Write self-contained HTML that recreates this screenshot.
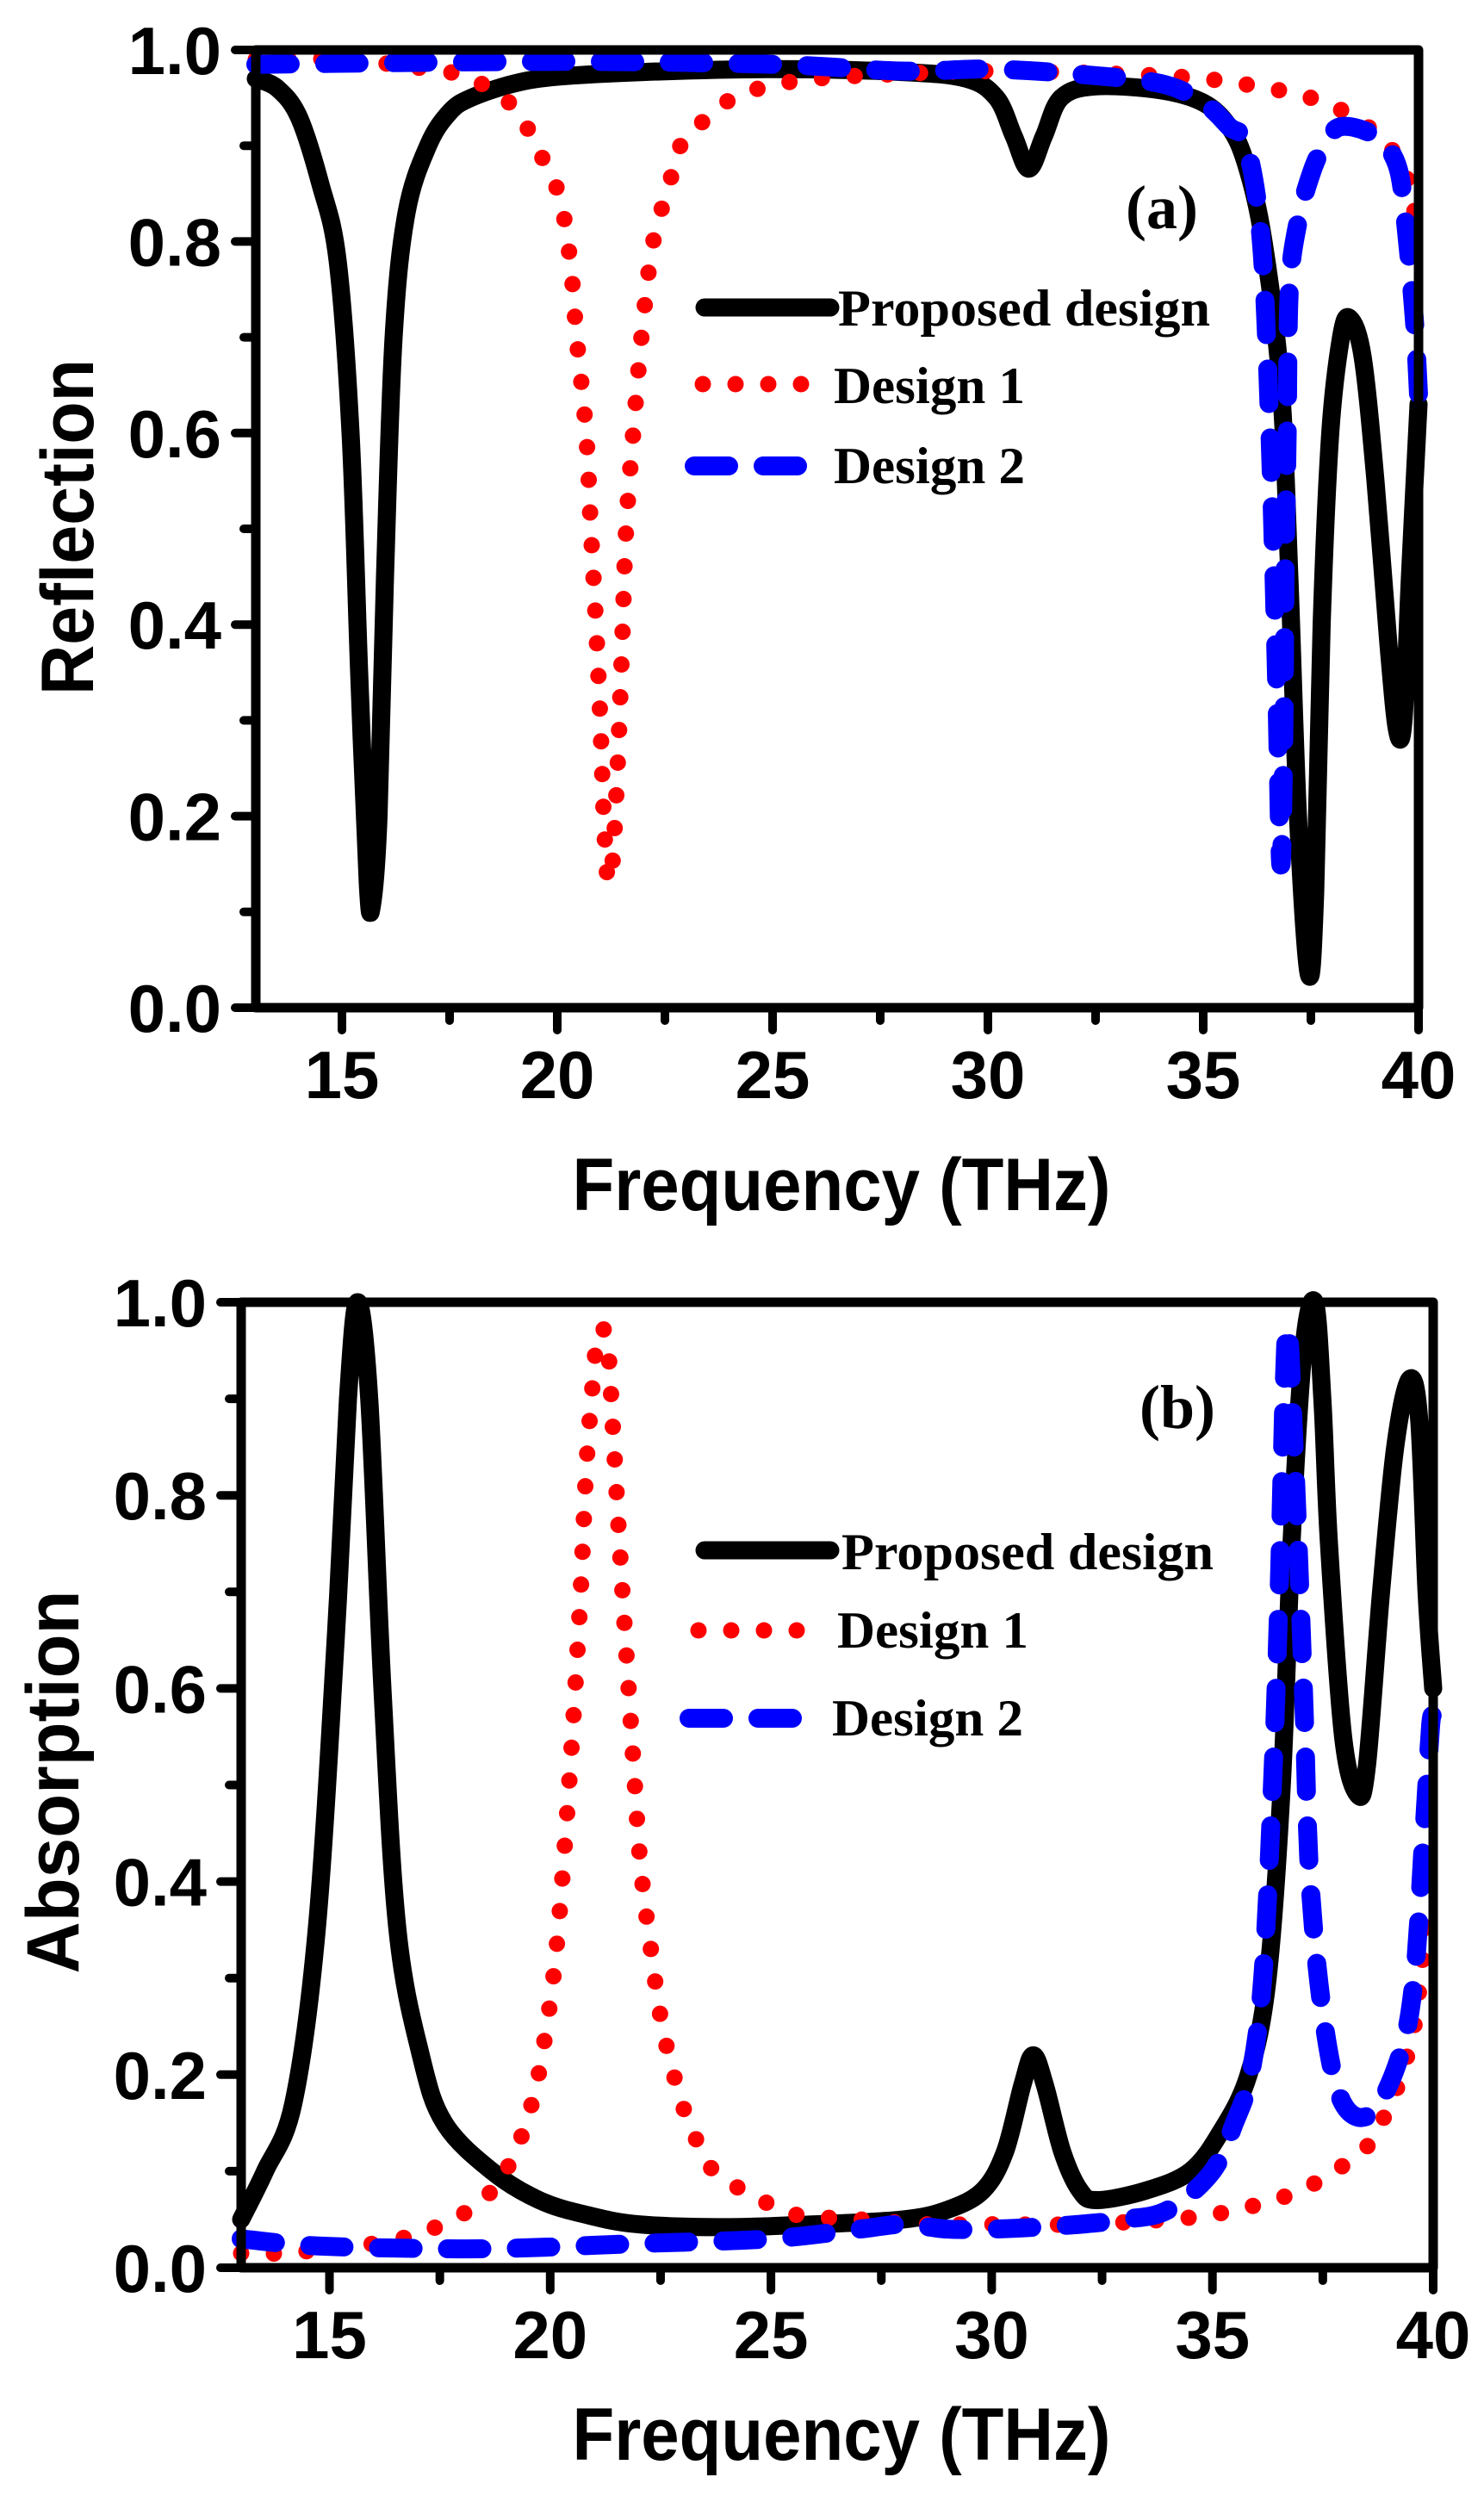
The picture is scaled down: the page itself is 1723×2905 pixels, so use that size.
<!DOCTYPE html>
<html><head><meta charset="utf-8">
<style>
html,body{margin:0;padding:0;background:#fff;}
svg{display:block;}
.tick{font-family:"Liberation Sans",Arial,sans-serif;font-weight:bold;font-size:78px;fill:#000;}
.title{font-family:"Liberation Sans",Arial,sans-serif;font-weight:bold;font-size:86px;fill:#000;}
.leg{font-family:"Liberation Serif","Times New Roman",serif;font-weight:bold;font-size:60px;fill:#000;}
</style></head>
<body>
<svg id="chart" width="1723" height="2905" viewBox="0 0 1723 2905" xmlns="http://www.w3.org/2000/svg"></svg>
<script>
// ---------- Data ----------
// Panel (a) Reflection
const refProposedX = [13,13.5,14,14.5,14.9,15.2,15.4,15.6,15.7,15.85,16.0,16.2,16.5,17,17.5,18,19,20,22,25,28,29.5,30.2,30.6,30.95,31.3,31.7,32.5,34,35,35.6,36.0,36.4,36.8,37.0,37.2,37.45,37.6,37.75,37.95,38.2,38.4,38.7,39.0,39.3,39.5,39.65,39.8,40];
const refProposedY = [0.97,0.96,0.93,0.86,0.78,0.6,0.35,0.13,0.108,0.2,0.45,0.7,0.83,0.9,0.935,0.95,0.965,0.972,0.977,0.98,0.977,0.97,0.95,0.91,0.876,0.91,0.95,0.962,0.958,0.945,0.92,0.88,0.8,0.65,0.45,0.2,0.035,0.12,0.4,0.6,0.7,0.72,0.68,0.55,0.38,0.29,0.3,0.45,0.63];
const refDesign1X = [13,15,17,18,19,19.5,20.03,20.3,20.45,20.67,20.78,20.9,21.0,21.08,21.17,21.28,21.4,21.5,21.6,21.8,22.0,22.23,22.6,22.86,23.26,23.9,24.7,26,28,30,33,35,36.5,37.5,38.5,39.3,39.7,40];
const refDesign1Y = [0.99,0.99,0.98,0.97,0.94,0.9,0.85,0.78,0.7,0.6,0.5,0.4,0.3,0.2,0.135,0.15,0.25,0.37,0.5,0.62,0.72,0.8,0.86,0.9,0.92,0.945,0.96,0.97,0.975,0.978,0.975,0.97,0.96,0.95,0.93,0.9,0.87,0.81];
const refDesign2X = [13,20,25,28,30,32,34,35,35.6,36.0,36.35,36.55,36.7,36.8,36.87,36.9,36.95,37.0,37.2,37.5,37.8,38.2,39.0,39.5,39.7,39.9,40];
const refDesign2Y = [0.985,0.988,0.985,0.978,0.98,0.975,0.965,0.945,0.92,0.9,0.8,0.6,0.35,0.15,0.28,0.45,0.6,0.75,0.82,0.87,0.9,0.92,0.91,0.88,0.82,0.72,0.64];
// Panel (b) Absorption
const absProposedX = [13,13.54,14.18,14.71,15.14,15.42,15.64,15.9,16.2,16.54,17.07,17.6,18.68,19.75,20.8,22,24,26,28,29,29.8,30.3,30.7,30.94,31.2,31.6,32.0,32.39,33.5,34.5,35.18,35.82,36.25,36.57,36.79,37.06,37.32,37.49,37.64,37.96,38.29,38.5,38.82,39.14,39.46,39.68,39.85,40];
const absProposedY = [0.05,0.1,0.17,0.35,0.65,0.9,1.0,0.9,0.6,0.35,0.22,0.15,0.1,0.07,0.055,0.045,0.042,0.045,0.05,0.06,0.08,0.12,0.19,0.22,0.19,0.12,0.08,0.07,0.08,0.1,0.14,0.2,0.3,0.5,0.75,0.95,1.0,0.9,0.75,0.55,0.49,0.52,0.7,0.85,0.92,0.88,0.7,0.6];
const absDesign1X = [13,14,15,16,17,18,18.68,19.21,19.64,19.92,20.14,20.35,20.54,20.69,20.82,20.99,21.08,21.29,21.42,21.57,21.72,21.89,22.04,22.28,22.54,22.92,23.24,23.71,24.79,25.54,27,28.5,30,32,34,35,36,37,37.75,38.4,38.82,39.21,39.57,39.79,40];
const absDesign1Y = [0.015,0.015,0.02,0.025,0.035,0.055,0.08,0.12,0.18,0.25,0.33,0.45,0.58,0.7,0.83,0.93,0.97,0.96,0.87,0.75,0.64,0.52,0.42,0.33,0.25,0.18,0.14,0.1,0.07,0.055,0.05,0.045,0.045,0.045,0.05,0.055,0.065,0.08,0.1,0.12,0.15,0.19,0.25,0.33,0.38];
const absDesign2X = [13,14,15,17,19,22,25,27,28,29,30,31,32,33,34,35.0,35.5,35.86,36.14,36.36,36.51,36.68,36.85,37.06,37.21,37.54,37.96,38.61,39.25,39.57,39.79,39.94,40];
const absDesign2Y = [0.03,0.025,0.022,0.02,0.02,0.025,0.03,0.04,0.045,0.04,0.04,0.042,0.045,0.05,0.06,0.1,0.15,0.2,0.3,0.5,0.7,0.97,0.85,0.6,0.4,0.25,0.17,0.16,0.22,0.3,0.45,0.56,0.57];
const xTicks = [15,20,25,30,35,40];
const xMinor = [17.5,22.5,27.5,32.5,37.5];
const yTicks = [0,0.2,0.4,0.6,0.8,1.0];
const yMinor = [0.1,0.3,0.5,0.7,0.9];
const xMin = 13, xMax = 40;

const NS = "http://www.w3.org/2000/svg";
const svg = document.getElementById('chart');
function mk(tag, attrs, parent){
  const e = document.createElementNS(NS, tag);
  for (const k in attrs) e.setAttribute(k, attrs[k]);
  (parent||svg).appendChild(e);
  return e;
}
function smoothPath(pts){
  let d = 'M' + pts[0][0].toFixed(1) + ',' + pts[0][1].toFixed(1);
  const t = 0.5 / 3;
  for (let i = 0; i < pts.length - 1; i++){
    const p0 = pts[Math.max(0, i-1)], p1 = pts[i], p2 = pts[i+1], p3 = pts[Math.min(pts.length-1, i+2)];
    const c1 = [p1[0] + (p2[0]-p0[0])*t, p1[1] + (p2[1]-p0[1])*t];
    const c2 = [p2[0] - (p3[0]-p1[0])*t, p2[1] - (p3[1]-p1[1])*t];
    d += 'C' + c1[0].toFixed(1) + ',' + c1[1].toFixed(1) + ' ' + c2[0].toFixed(1) + ',' + c2[1].toFixed(1) + ' ' + p2[0].toFixed(1) + ',' + p2[1].toFixed(1);
  }
  return d;
}

function panel(cfg){
  const g = mk('g', {});
  
  
  const sx = v => cfg.L + (v - xMin) / (xMax - xMin) * (cfg.R - cfg.L);
  const sy = v => cfg.B - v * (cfg.B - cfg.T);
  function series(xs, ys, style, name){
    const pts = xs.map((x, i) => [sx(x), sy(ys[i])]);
    const p = mk('path', Object.assign({d: smoothPath(pts), fill: 'none'}, style), g);
    
    
  }
  const black = {stroke:'#000','stroke-width':21,'stroke-linejoin':'round','stroke-linecap':'round'};
  const red = {stroke:'#ff0000','stroke-width':19,'stroke-linecap':'round','stroke-dasharray':'0 38'};
  const blue = {stroke:'#0000ff','stroke-width':22,'stroke-linecap':'round','stroke-dasharray':'40 40'};
  series(cfg.px, cfg.py, black, 'proposed-design-line');
  series(cfg.d1x, cfg.d1y, red, 'design-1-line');
  series(cfg.d2x, cfg.d2y, blue, 'design-2-line');

  const frame = mk('rect', {x:cfg.L, y:cfg.T, width:cfg.R-cfg.L, height:cfg.B-cfg.T, fill:'none', stroke:'#000','stroke-width':11,'stroke-linejoin':'round'}, g);
  
  
  xTicks.forEach(v => {
    const t = mk('line', {x1:sx(v), x2:sx(v), y1:cfg.B, y2:cfg.B+26, stroke:'#000','stroke-width':10,'stroke-linecap':'round'}, g);
    
    
    const tx = mk('text', {x:sx(v), y:cfg.B+105, 'text-anchor':'middle', class:'tick'}, g);
    tx.textContent = v;
    
    
  });
  xMinor.forEach(v => {
    const t = mk('line', {x1:sx(v), x2:sx(v), y1:cfg.B, y2:cfg.B+15, stroke:'#000','stroke-width':10,'stroke-linecap':'round'}, g);
    
    
  });
  yTicks.forEach(v => {
    const t = mk('line', {x1:cfg.L-24, x2:cfg.L, y1:sy(v), y2:sy(v), stroke:'#000','stroke-width':10,'stroke-linecap':'round'}, g);
    
    
    const tx = mk('text', {x:cfg.L-40, y:sy(v)+28, 'text-anchor':'end', class:'tick'}, g);
    tx.textContent = v.toFixed(1);
    
    
  });
  yMinor.forEach(v => {
    const t = mk('line', {x1:cfg.L-14, x2:cfg.L, y1:sy(v), y2:sy(v), stroke:'#000','stroke-width':10,'stroke-linecap':'round'}, g);
    
    
  });
  const xt = mk('text', {x:(cfg.L+cfg.R)/2+5, y:cfg.xTitleY, 'text-anchor':'middle', class:'title', textLength:625, lengthAdjust:'spacingAndGlyphs'}, g);
  xt.textContent = 'Frequency (THz)';
  
  
  const yt = mk('text', {x:0, y:0, 'text-anchor':'middle', class:'title', textLength:cfg.yTitleLen, lengthAdjust:'spacingAndGlyphs', transform:'translate('+cfg.yTitleX+','+cfg.yTitleCY+') rotate(-90)'}, g);
  yt.textContent = cfg.yTitle;
  
  
  const pl = mk('text', {x:cfg.lab[0], y:cfg.lab[1], class:'leg', style:'font-size:72px'}, g);
  pl.textContent = cfg.labText;
  
  
  const lg = mk('g', {}, g);
  
  
  const items = [
    ['Proposed design', black, cfg.leg[0], 'legend-entry-proposed', 432],
    ['Design 1', red, cfg.leg[1], 'legend-entry-design-1', 222],
    ['Design 2', blue, cfg.leg[2], 'legend-entry-design-2', 222]
  ];
  items.forEach(it => {
    const [txt, st, p, nm, tl] = it;
    const eg = mk('g', {}, lg);
    
    
    mk('line', Object.assign({x1:p[0], x2:p[1], y1:p[2], y2:p[2]}, st), eg);
    const t = mk('text', {x:p[3], y:p[4], class:'leg', textLength:tl, lengthAdjust:'spacingAndGlyphs'}, eg);
    t.textContent = txt;
  });
}

panel({name:'reflection-panel', L:297, R:1647, T:58, B:1170,
  px:refProposedX, py:refProposedY, d1x:refDesign1X, d1y:refDesign1Y, d2x:refDesign2X, d2y:refDesign2Y,
  xTitleY:1405, yTitle:'Reflection', yTitleX:108, yTitleCY:612, yTitleLen:390,
  lab:[1307,265], labText:'(a)',
  leg:[[818,964,357,973,378],[816,935,446,968,468],[806,940,541,968,561]]});
panel({name:'absorption-panel', L:280, R:1664, T:1512, B:2633,
  px:absProposedX, py:absProposedY, d1x:absDesign1X, d1y:absDesign1Y, d2x:absDesign2X, d2y:absDesign2Y,
  xTitleY:2856, yTitle:'Absorption', yTitleX:91, yTitleCY:2069, yTitleLen:445,
  lab:[1323,1658], labText:'(b)',
  leg:[[818,964,1800,977,1822],[811,934,1893,972,1913],[800,939,1995,966,2015]]});
</script>
</body></html>
